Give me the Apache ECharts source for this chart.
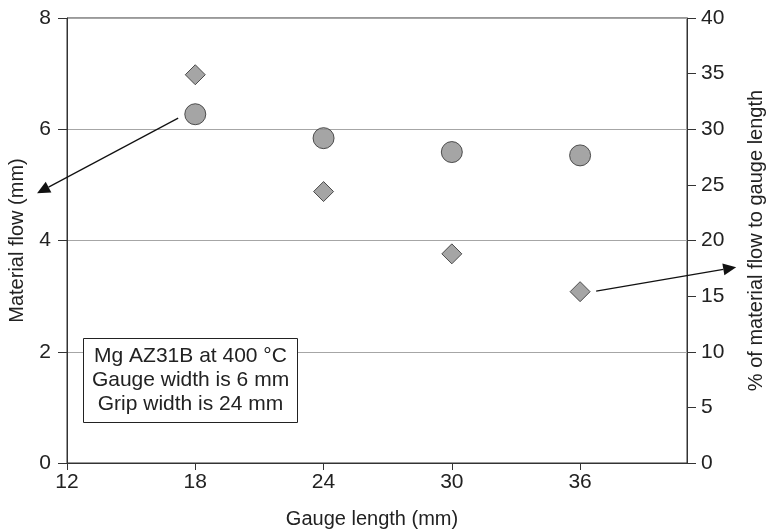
<!DOCTYPE html>
<html>
<head>
<meta charset="utf-8">
<script src="https://cdn.jsdelivr.net/npm/echarts@6/dist/echarts.min.js"></script>
<style>
  html, body { margin: 0; padding: 0; background: #fff; }
  #chart { width: 769px; height: 529px; }
</style>
</head>
<body>
<div id="chart"></div>
<script>
// values
const gaugeLength = [18, 24, 30, 36];
const materialFlow = [6.27, 5.84, 5.59, 5.53];
const flowPercent = [34.9, 24.4, 18.8, 15.4];
const xTicks = [12, 18, 24, 30, 36];
const noteLines = ["Mg AZ31B at 400 °C", "Gauge width is 6 mm", "Grip width is 24 mm"];
// annotation arrows, [from, to] in data units of their own axis
const arrowFlow = [[17.2, 6.2], [10.6, 4.85]];
const arrowPercent = [[36.75, 15.45], [43.3, 17.6]];

const font = "'Liberation Sans', Arial, sans-serif";
const ink = "#222";

const chart = echarts.init(document.getElementById("chart"));

const markerStyle = { color: "#8f8f8f", borderColor: "#2a2a2a", borderWidth: 1 };

chart.setOption({
  animation: false,
  textStyle: { fontFamily: font },
  grid: {
    left: 67, right: 82, top: 18, bottom: 66,
    outerBoundsMode: "none",
    containLabel: false,
    show: true, borderColor: "#333", borderWidth: 1, backgroundColor: "transparent",
  },
  xAxis: {
    type: "value",
    min: 12, max: 41, interval: 6,
    name: "Gauge length (mm)",
    nameLocation: "middle",
    nameGap: 46,
    nameTextStyle: { fontSize: 20, color: ink, fontFamily: font, padding: [0, 10, 0, 0] },
    axisLine: { lineStyle: { color: "#333" } },
    axisTick: { length: 7, lineStyle: { color: "#333" }, customValues: xTicks },
    axisLabel: { fontSize: 21, color: ink, margin: 9, fontFamily: font, customValues: xTicks },
    splitLine: { show: false },
  },
  yAxis: [
    {
      type: "value",
      min: 0, max: 8, interval: 2,
      name: "Material flow (mm)",
      nameLocation: "middle",
      nameRotate: 90,
      nameGap: 40,
      nameTextStyle: { fontSize: 20, color: ink, fontFamily: font },
      axisLine: { show: true, lineStyle: { color: "#333" } },
      axisTick: { show: true, length: 9, lineStyle: { color: "#333" } },
      axisLabel: { fontSize: 21, color: ink, margin: 16, fontFamily: font },
      splitLine: { show: true, lineStyle: { color: "#a6a6a6", width: 1 } },
    },
    {
      type: "value",
      min: 0, max: 40, interval: 5,
      position: "right",
      name: "% of material flow to gauge length",
      nameLocation: "middle",
      nameRotate: 90,
      nameGap: 59,
      nameTextStyle: { fontSize: 20, color: ink, fontFamily: font },
      axisLine: { show: true, lineStyle: { color: "#333" } },
      axisTick: { show: true, length: 9, lineStyle: { color: "#333" } },
      axisLabel: { fontSize: 21, color: ink, margin: 14, fontFamily: font },
      splitLine: { show: false },
    },
  ],
  series: [
    {
      name: "Material flow",
      type: "scatter",
      yAxisIndex: 0,
      symbol: "circle",
      symbolSize: 21,
      itemStyle: markerStyle,
      data: gaugeLength.map((g, i) => [g, materialFlow[i]]),
    },
    {
      name: "% of gauge length",
      type: "scatter",
      yAxisIndex: 1,
      symbol: "diamond",
      symbolSize: 20,
      itemStyle: markerStyle,
      data: gaugeLength.map((g, i) => [g, flowPercent[i]]),
    },
  ],
});

// arrows and the note box go on top as graphic elements
function arrow(seriesIndex, pts) {
  const a = chart.convertToPixel({ seriesIndex }, pts[0]);
  const b = chart.convertToPixel({ seriesIndex }, pts[1]);
  const dx = b[0] - a[0], dy = b[1] - a[1];
  const len = Math.hypot(dx, dy);
  const ux = dx / len, uy = dy / len;
  const headLen = 13, headHalf = 6;
  const bx = b[0] - ux * headLen, by = b[1] - uy * headLen;
  return [
    {
      type: "line",
      shape: { x1: a[0], y1: a[1], x2: bx, y2: by },
      style: { stroke: "#111", lineWidth: 1.2 },
      z: 100,
    },
    {
      type: "polygon",
      shape: {
        points: [
          [b[0], b[1]],
          [bx - uy * headHalf, by + ux * headHalf],
          [bx + uy * headHalf, by - ux * headHalf],
        ],
      },
      style: { fill: "#111" },
      z: 100,
    },
  ];
}

chart.setOption({
  graphic: [
    ...arrow(0, arrowFlow),
    ...arrow(1, arrowPercent),
    {
      type: "group",
      left: 83,
      top: 338,
      z: 100,
      children: [
        {
          type: "rect",
          shape: { x: 0, y: 0, width: 214, height: 84 },
          style: { fill: "#fff", stroke: "#222", lineWidth: 1 },
        },
        {
          type: "text",
          x: 107,
          y: 42,
          style: {
            text: noteLines.join("\n"),
            font: "21px " + font,
            fill: ink,
            align: "center",
            verticalAlign: "middle",
            lineHeight: 24,
          },
        },
      ],
    },
  ],
});
</script>
</body>
</html>
